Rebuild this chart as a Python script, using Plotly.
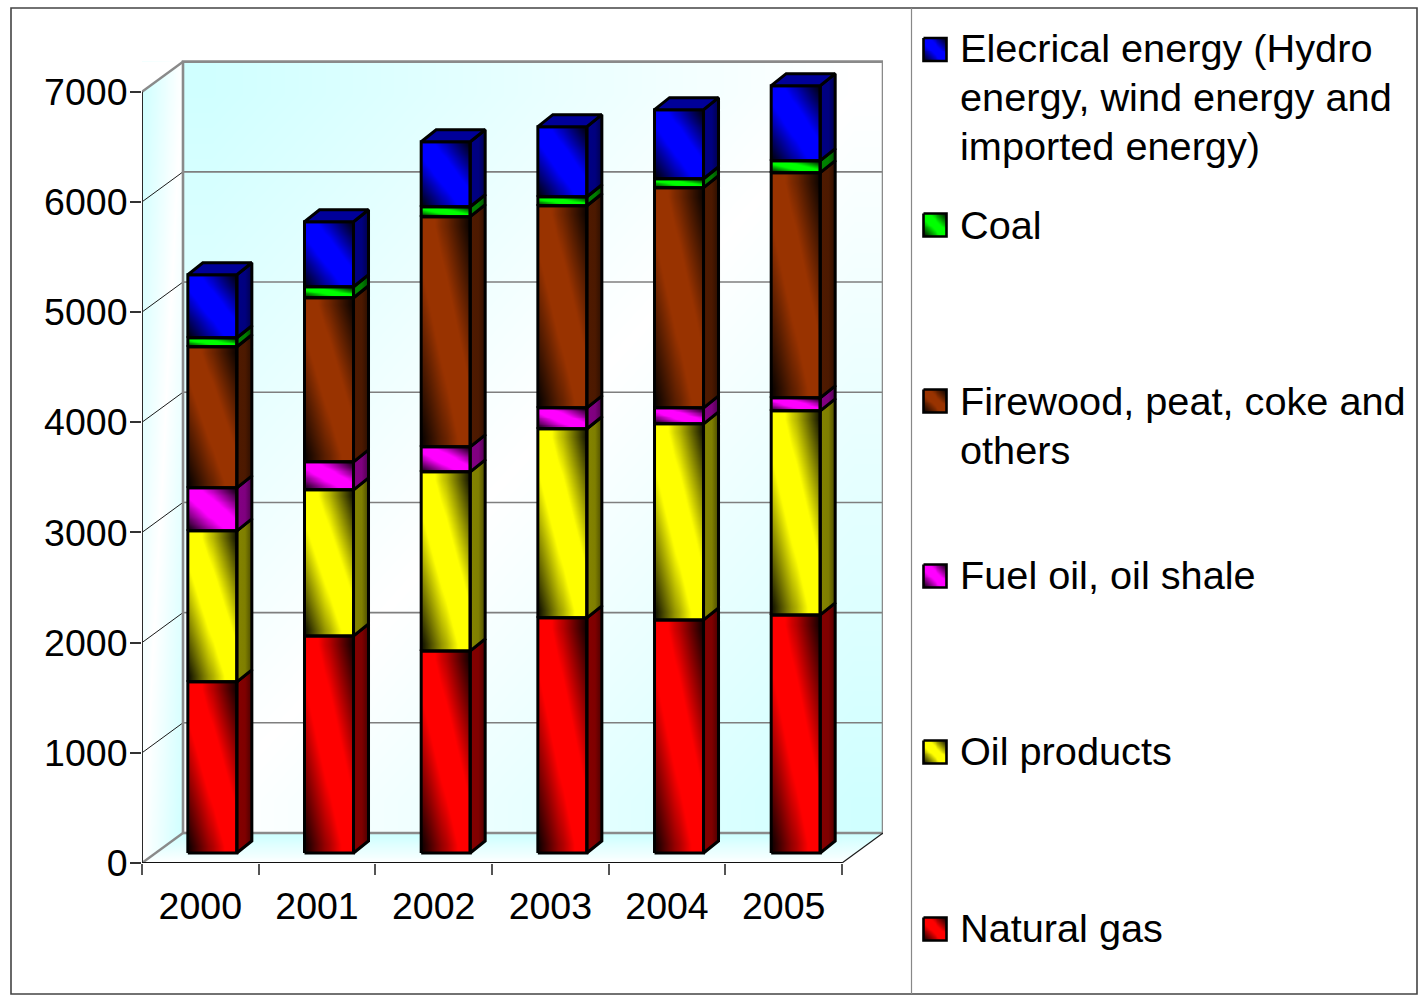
import numpy as np
import plotly.graph_objects as go

# ---- chart data -------------------------------------------------------------
years = ["2000", "2001", "2002", "2003", "2004", "2005"]
natural_gas = [1553, 1970, 1834, 2134, 2115, 2161]
oil_products = [1371, 1326, 1625, 1716, 1780, 1852]
fuel_oil_shale = [390, 254, 227, 190, 145, 118]
firewood_peat_coke = [1280, 1489, 2089, 1834, 1998, 2043]
coal = [82, 100, 90, 82, 81, 109]
electrical = [572, 590, 590, 636, 627, 681]
y_ticks = [0, 1000, 2000, 3000, 4000, 5000, 6000, 7000]

# Legend wording, one list entry per printed line
legend_lines = [
    ["Elecrical energy (Hydro", "energy, wind energy and", "imported energy)"],
    ["Coal"],
    ["Firewood, peat, coke and", "others"],
    ["Fuel oil, oil shale"],
    ["Oil products"],
    ["Natural gas"],
]

# ---- styling and geometry ---------------------------------------------------
W, H = 1425, 996
FONT = "Liberation Sans"
PX_PER_CAT = 116.67
PX_PER_UNIT = 0.11019
PLOT_L, PLOT_R, PLOT_T, PLOT_B = 142, 883, 60, 863

WALL_DX = 41 / PX_PER_CAT      # depth of the walls
WALL_DY = 30 / PX_PER_UNIT
BAR_SHIFT_X = 12 / PX_PER_CAT  # bars stand slightly inside the floor
BAR_SHIFT_Y = 10 / PX_PER_UNIT
BAR_W = 49 / PX_PER_CAT
BAR_DX = 15 / PX_PER_CAT       # depth of each bar
BAR_DY = 12 / PX_PER_UNIT

X_MAX = (PLOT_R - PLOT_L) / PX_PER_CAT
Y_MAX = (PLOT_B - PLOT_T) / PX_PER_UNIT

stack = [natural_gas, oil_products, fuel_oil_shale, firewood_peat_coke, coal, electrical]
base_colors = [(255, 0, 0), (255, 255, 0), (255, 0, 255), (153, 51, 0), (0, 255, 0), (0, 0, 255)]
legend_colors = [base_colors[i] for i in (5, 4, 3, 2, 1, 0)]
legend_line_y = [[48, 97, 146], [225], [401, 450], [575], [751], [928]]
legend_swatch_y = [49.5, 225, 401, 576, 752, 929]

CYAN = "#ccffff"
wall_scale = [[0, CYAN], [0.5, "#ffffff"], [1, CYAN]]


def rgb(c, k=1.0):
    return "rgb(%d,%d,%d)" % tuple(int(v * k) for v in c)


def front_scale(c):
    return [[0, "#000000"], [0.39, rgb(c)], [0.62, rgb(c)], [1, "#000000"]]


def diagonal_cell(x0, x1, y0, y1, scale, rising=True, xaxis="x", yaxis="y", n=12):
    """Rectangle shaded along its diagonal, as a smoothed heatmap."""
    centres = (np.arange(n) + 0.5) / n
    u, v = np.meshgrid(centres, centres)
    z = (u + v) / 2 if rising else (u + 1 - v) / 2
    return go.Heatmap(
        x=np.linspace(x0, x1, n + 1), y=np.linspace(y0, y1, n + 1), z=z,
        zmin=0, zmax=1, zsmooth="best", colorscale=scale, showscale=False,
        hoverinfo="skip", xaxis=xaxis, yaxis=yaxis,
    )


def line(x, y, color, width, xaxis="x", yaxis="y"):
    return go.Scatter(
        x=x, y=y, mode="lines", line=dict(color=color, width=width),
        hoverinfo="skip", cliponaxis=False, xaxis=xaxis, yaxis=yaxis, showlegend=False,
    )


def poly(x, y, **kw):
    return go.Scatter(
        x=x, y=y, mode="lines", fill="toself", hoverinfo="skip",
        cliponaxis=False, showlegend=False, **kw,
    )


fig = go.Figure()
no_line = dict(width=0, color="rgba(0,0,0,0)")
top_front = y_ticks[-1]
back_top = top_front + WALL_DY
x_front_end = len(years)
x_back_end = x_front_end + WALL_DX

# ---- walls and floor --------------------------------------------------------
fig.add_trace(diagonal_cell(WALL_DX, x_back_end, WALL_DY, back_top, wall_scale, rising=False))
fig.add_trace(diagonal_cell(0, WALL_DX, 0, back_top, wall_scale, rising=False))
floor_scale = [[0, "#ffffff"], [1, CYAN]]
fig.add_trace(go.Heatmap(
    x=[WALL_DX, (WALL_DX + x_front_end) / 2, x_front_end], y=np.linspace(0, WALL_DY, 9),
    z=[[k, k] for k in (np.arange(8) + 0.5) / 8], zmin=0, zmax=1, zsmooth="best",
    colorscale=floor_scale, showscale=False, hoverinfo="skip",
))

# ---- front faces of the stacked bars ----------------------------------------
totals = np.sum(stack, axis=0)
lefts = [i + 0.5 + BAR_SHIFT_X - BAR_W / 2 for i in range(len(years))]
rights = [xl + BAR_W for xl in lefts]
segments = []
cum = np.zeros(len(years))
for values, color in zip(stack, base_colors):
    for i, v in enumerate(values):
        y0 = cum[i] + BAR_SHIFT_Y
        y1 = y0 + v
        segments.append((lefts[i], rights[i], y0, y1, color))
        fig.add_trace(diagonal_cell(lefts[i], rights[i], y0, y1, front_scale(color)))
    cum += np.array(values)

# ---- pieces that tidy the wall edges ----------------------------------------
vgrad = dict(type="vertical", colorscale=floor_scale)
fig.add_trace(poly([0, WALL_DX, WALL_DX, 0], [0, 0, WALL_DY, 0], line=no_line, fillgradient=vgrad))
fig.add_trace(poly([x_front_end, x_back_end, x_front_end, x_front_end],
                   [0, WALL_DY, WALL_DY, 0], line=no_line, fillgradient=vgrad))
fig.add_trace(poly([0, WALL_DX, 0, 0], [top_front, back_top, back_top, top_front],
                   line=no_line, fillcolor="#ffffff"))

# ---- gridlines, interrupted behind the bars ---------------------------------
GRID = "#7f7f7f"
for level in y_ticks[:-1]:
    gx, gy = [WALL_DX], [level + WALL_DY]
    for i in range(len(years)):
        if BAR_SHIFT_Y <= level + WALL_DY <= BAR_SHIFT_Y + totals[i]:
            gx += [lefts[i], None, rights[i]]
            gy += [level + WALL_DY, None, level + WALL_DY]
    gx.append(x_back_end)
    gy.append(level + WALL_DY)
    fig.add_trace(line(gx, gy, "#8a8a8a" if level == 0 else GRID, 2.6 if level == 0 else 1.6))
    if level:
        fig.add_trace(line([0, WALL_DX], [level, level + WALL_DY], "#1a1a1a", 1))

fig.add_trace(line([WALL_DX, WALL_DX, x_back_end, x_back_end],
                   [WALL_DY, back_top, back_top, WALL_DY], "#8a8a8a", 2.6))
fig.add_trace(line([0, WALL_DX], [top_front, back_top], "#8a8a8a", 2.4))
fig.add_trace(line([0, WALL_DX], [0, WALL_DY], "#8a8a8a", 2.4))
fig.add_trace(line([x_front_end, x_back_end], [0, WALL_DY], "#1a1a1a", 1.2))
fig.add_trace(line([0, 0], [0, top_front], "#2a2a2a", 2))
fig.add_trace(line([0, x_front_end], [0, 0], "#111111", 1.8))

# ---- side faces, caps and outlines of the bars ------------------------------
OUTLINE = dict(color="#000000", width=3)
for xl, xr, y0, y1, color in segments:
    fig.add_trace(poly(
        [xr, xr + BAR_DX, xr + BAR_DX, xr, xr], [y0, y0 + BAR_DY, y1 + BAR_DY, y1, y0],
        line=OUTLINE,
        fillgradient=dict(type="horizontal", colorscale=[
            [0, rgb(color, 0.52)], [0.55, rgb(color, 0.5)], [1, rgb(color, 0.3)]]),
    ))
    fig.add_trace(line([xl, xr, xr, xl, xl], [y0, y0, y1, y1, y0], "#000000", 3))
for i in range(len(years)):
    ytop = BAR_SHIFT_Y + totals[i]
    fig.add_trace(poly(
        [lefts[i], rights[i], rights[i] + BAR_DX, lefts[i] + BAR_DX, lefts[i]],
        [ytop, ytop, ytop + BAR_DY, ytop + BAR_DY, ytop],
        line=OUTLINE, fillcolor=rgb(base_colors[-1], 0.6),
    ))

# Carrier for the year labels on their overlaid axis
centres = [i + 0.5 for i in range(len(years))]
fig.add_trace(go.Scatter(x=centres, y=[0] * len(years), mode="markers", opacity=0,
                         xaxis="x2", hoverinfo="skip", showlegend=False))

# ---- legend panel -----------------------------------------------------------
annotations = []
for lines, ys, sy, color in zip(legend_lines, legend_line_y, legend_swatch_y, legend_colors):
    sw = 11.5
    fig.add_trace(diagonal_cell(935 - sw, 935 + sw, sy + sw, sy - sw, front_scale(color),
                                xaxis="x3", yaxis="y3"))
    fig.add_trace(line([935 - sw, 935 + sw, 935 + sw, 935 - sw, 935 - sw],
                       [sy - sw, sy - sw, sy + sw, sy + sw, sy - sw], "#000000", 2.6,
                       xaxis="x3", yaxis="y3"))
    for text, ly in zip(lines, ys):
        annotations.append(dict(
            text=text, xref="paper", yref="paper", x=960 / W, y=1 - ly / H,
            xanchor="left", yanchor="middle", showarrow=False, xshift=-2,
            font=dict(family=FONT, size=39.7, color="#000000"),
        ))

# ---- outer frame ------------------------------------------------------------
shapes = [
    dict(type="rect", xref="paper", yref="paper", x0=11 / W, x1=1417 / W,
         y0=1 - 994 / H, y1=1 - 8 / H, line=dict(color="#444444", width=1.6)),
    dict(type="line", xref="paper", yref="paper", x0=911.5 / W, x1=911.5 / W,
         y0=1 - 994 / H, y1=1 - 8 / H, line=dict(color="#888888", width=1.2)),
]

domain_x = [PLOT_L / W, PLOT_R / W]
fig.update_layout(
    width=W, height=H, margin=dict(l=0, r=0, t=0, b=0), autosize=False,
    paper_bgcolor="#ffffff", plot_bgcolor="rgba(0,0,0,0)", showlegend=False,
    font=dict(family=FONT, size=37.5, color="#000000"),
    annotations=annotations, shapes=shapes,
    xaxis=dict(
        domain=domain_x, range=[0, X_MAX], showgrid=False, zeroline=False, showline=False,
        automargin=False,
        tickmode="array", tickvals=list(range(len(years) + 1)), ticktext=[""] * (len(years) + 1),
        ticks="outside", ticklen=11, tickwidth=1.6, tickcolor="#555555",
    ),
    xaxis2=dict(
        domain=domain_x, range=[0, X_MAX], overlaying="x", side="bottom", anchor="y",
        showgrid=False, zeroline=False, showline=False, automargin=False,
        tickmode="array", tickvals=centres, ticktext=years,
        ticks="outside", ticklen=10, tickwidth=0, tickcolor="rgba(0,0,0,0)",
        tickfont=dict(family=FONT, size=37.5, color="#000000"),
    ),
    yaxis=dict(
        domain=[1 - PLOT_B / H, 1 - PLOT_T / H], range=[0, Y_MAX], showgrid=False,
        zeroline=False, showline=False, automargin=False, tickmode="array", tickvals=y_ticks,
        ticks="outside", ticklen=11, tickwidth=1.6, tickcolor="#333333", ticklabelstandoff=-5,
        tickfont=dict(family=FONT, size=37.5, color="#000000"),
    ),
    xaxis3=dict(domain=[915 / W, 955 / W], range=[915, 955], visible=False, anchor="y3",
                automargin=False),
    yaxis3=dict(domain=[0, 1], range=[996, 0], visible=False, anchor="x3", automargin=False),
)

fig.write_html("out.html")
